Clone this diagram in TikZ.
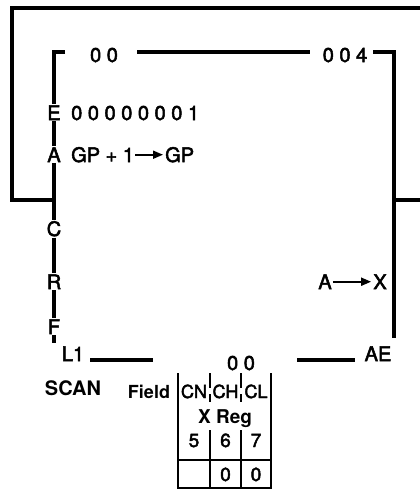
\documentclass[tikz,border=0pt]{standalone}
\usepackage{fontspec}
\setmainfont{TeX Gyre Heros}
\newfontfamily\medfont{TeX Gyre Heros}[FakeBold=2.5]
\usetikzlibrary{arrows.meta}
\tikzset{
  lbl/.style={inner sep=1pt, anchor=base, font=\fontsize{20}{23}\medfont},
  lblw/.style={lbl, anchor=base west},
  tbl/.style={inner sep=0pt, anchor=base, font=\fontsize{19}{22}\medfont},
  heavy/.style={line width=4pt},
  thin/.style={line width=1.8pt},
  arr/.style={line width=1.8pt, -{Triangle[length=10pt,width=8pt]}, shorten >=1pt}
}
\begin{document}
\begin{tikzpicture}[x=1pt,y=-1pt]
\useasboundingbox (0,0) rectangle (420,490);
% top labels
\node[lbl] (t00) at (104,62) {0 0};
\node[lbl] (t004) at (345,62) {0 0 4};
% letters on left rail
\node[lbl] (E) at (54,120) {E};
\node[lbl] (A) at (54,162) {A};
\node[lbl] (C) at (54,236) {C};
\node[lbl] (R) at (54,289) {R};
\node[lbl] (F) at (54,334) {F};
% micro-ops
\node[lblw] (eval) at (70,120) {0 0 0 0 0 0 0 1};
\node[lblw] (gp1) at (70,162) {GP + 1};
\node[lblw] (gp2) at (164,162) {GP};
\node[lbl] (ax) at (325,289) {A};
\node[lbl] (xx) at (380,289) {X};
% bottom labels
\node[lbl] (L1) at (73,361) {L1};
\node[lbl] (b00) at (241,370) {0 0};
\node[lbl] (AE) at (378,361) {AE};
\node[lbl, font=\fontsize{20}{23}\selectfont\bfseries] (scan) at (73,395) {SCAN};
\node[tbl, font=\fontsize{18}{21}\selectfont\bfseries] (field) at (149,398) {Field};
% table text
\node[tbl, font=\fontsize{18}{21}\medfont] (cn) at (194,398) {CN};
\node[tbl, font=\fontsize{18}{21}\medfont] (ch) at (225.5,398) {CH};
\node[tbl, font=\fontsize{18}{21}\medfont] (cl) at (256,398) {CL};
\node[tbl, font=\fontsize{19}{22}\selectfont\bfseries] (xreg) at (225,423.5) {X Reg};
\node[tbl] (c5) at (194,447) {5};
\node[tbl] (c6) at (225.5,447) {6};
\node[tbl] (c7) at (256,447) {7};
\node[tbl] (v6) at (225.5,481) {0};
\node[tbl] (v7) at (256,481) {0};
% outer loop
\coordinate (jl) at (54,200);
\coordinate (jr) at (394,200);
\draw[heavy] (jl) -- (12,200) -- (12,8) -- (420,8);
\draw[heavy] (jr) -- (420,200);
% inner box
\draw[heavy] (65,52) -- (54,52) -- (E);
\draw[heavy] (E) -- (A);
\draw[heavy] (A) -- (C);
\draw[heavy] (C) -- (R);
\draw[heavy] (R) -- (F);
\draw[heavy] (F.south) -- ++(0,8);
\draw[heavy] (137,52) -- (310,52);
\draw[heavy] (373,52) -- (394,52) -- (394,338);
\draw[heavy] (90,360) -- (153,360);
\draw[heavy] (297,360) -- (355,360);
% arrows
\draw[arr] (gp1) -- (gp2);
\draw[arr] (ax) -- (xx);
% table
\draw[thin] (178,373) -- (178,488) -- (271,488) -- (271,373);
\draw[thin] (178,460) -- (271,460);
\foreach \x in {210,241} {
  \draw[thin] (\x,373) -- (\x,388);
  \draw[thin] (\x,394) -- (\x,402);
  \draw[thin] (\x,430) -- (\x,488);
}
\end{tikzpicture}
\end{document}
